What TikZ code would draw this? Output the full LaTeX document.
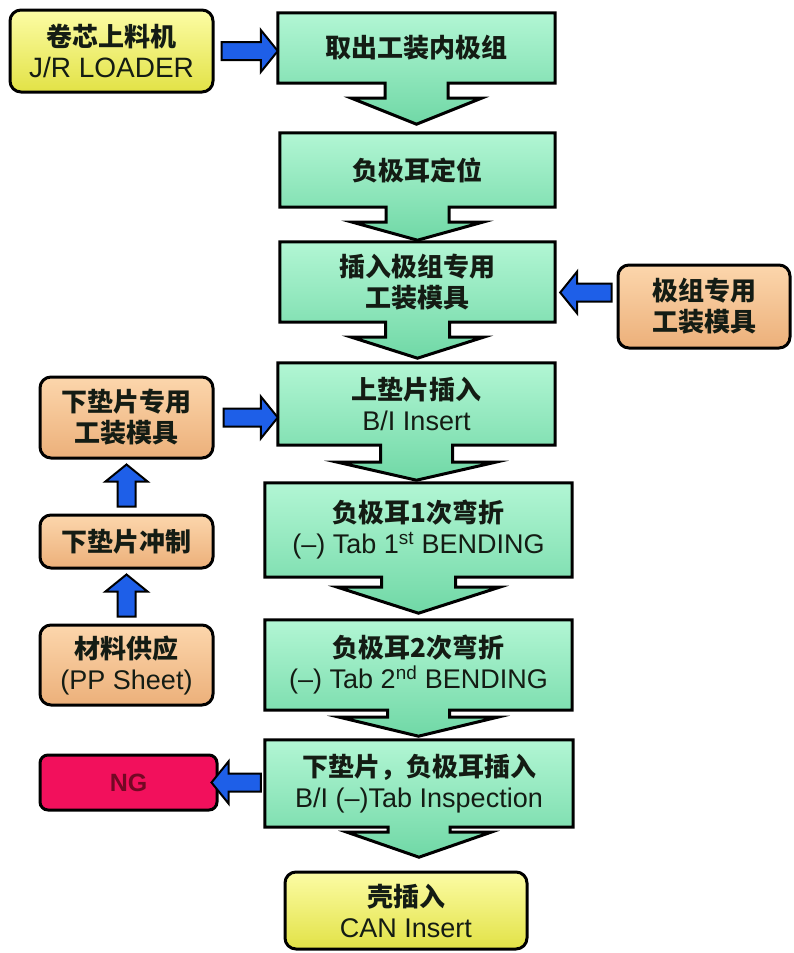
\documentclass[tikz,border=0pt]{standalone}
\usepackage{fontspec}
\setmainfont{Liberation Sans}
\newfontfamily\cjk{Noto Sans CJK SC}
\usetikzlibrary{calc}
\pgfdeclarelayer{bg}
\pgfsetlayers{bg,main}
\definecolor{gtop}{RGB}{178,246,212}
\definecolor{gbot}{RGB}{112,216,166}
\definecolor{ytop}{RGB}{252,252,165}
\definecolor{ybot}{RGB}{226,226,70}
\definecolor{ptop}{RGB}{252,214,172}
\definecolor{pbot}{RGB}{236,176,122}
\definecolor{ngred}{RGB}{242,16,92}
\definecolor{ngtext}{RGB}{115,8,36}
\definecolor{arrblue}{RGB}{30,95,232}
\definecolor{txt}{RGB}{20,28,20}
\tikzset{
  gnode/.style={inner sep=0pt, text=txt, align=center, font=\fontsize{27}{31}\selectfont},
  gshape/.style={draw=black, line width=3pt, line join=miter, top color=gtop, bottom color=gbot},
  rbox/.style={draw=black, line width=3pt, rounded corners=11pt, inner sep=0pt, text=txt, align=center, font=\fontsize{27}{31}\selectfont},
  ybox/.style={rbox, top color=ytop, bottom color=ybot},
  pbox/.style={rbox, top color=ptop, bottom color=pbot},
  ngbox/.style={rbox, rounded corners=8pt, fill=ngred, text=ngtext, font=\fontsize{25}{30}\selectfont\bfseries},
  barrow/.style={draw=black, fill=arrblue, line width=2pt, line join=miter}
}
\newcommand\zh[1]{{\cjk\bfseries\fontsize{26}{31}\selectfont #1}}
% #1 name, #2 shaft half width, #3 shaft length, #4 head half width, #5 head length
\newcommand\arrowbox[5]{%
  \begin{pgfonlayer}{bg}
  \path[gshape] (#1.north west) -- (#1.north east) -- (#1.south east)
    -- ($(#1.south)+(#2,0)$) -- ($(#1.south)+(#2,#3)$) -- ($(#1.south)+(#4,#3)$)
    -- ($(#1.south)+(0,#3+#5)$) -- ($(#1.south)+(-#4,#3)$) -- ($(#1.south)+(-#2,#3)$)
    -- ($(#1.south)+(-#2,0)$) -- (#1.south west) -- cycle;
  \end{pgfonlayer}}
\newcommand\bluearrow[2]{%
  \coordinate (ba1) at (#1);
  \coordinate (ba2) at (#2);
  \coordinate (bah) at ($(ba2)!17pt!(ba1)$);
  \path[barrow] ($(ba1)!9pt!90:(ba2)$) -- ($(bah)!9pt!90:(ba2)$) -- ($(bah)!21pt!90:(ba2)$)
    -- (ba2) -- ($(bah)!21pt!-90:(ba2)$) -- ($(bah)!9pt!-90:(ba2)$) -- ($(ba1)!9pt!-90:(ba2)$) -- cycle;}
\begin{document}
\begin{tikzpicture}[x=1pt,y=-1pt]
\begin{pgfonlayer}{bg}
\fill[white] (0,0) rectangle (793,953);
\end{pgfonlayer}
\useasboundingbox (0,0) rectangle (793,953);

% main column
\node[gnode, minimum width=277pt, minimum height=70pt] (b1) at (416.5,48) {\zh{取出工装内极组}};
\node[gnode, minimum width=275pt, minimum height=74pt] (b2) at (417.5,170) {\zh{负极耳定位}};
\node[gnode, minimum width=275pt, minimum height=80pt] (b3) at (417.5,282) {\zh{插入极组专用}\\\zh{工装模具}};
\node[gnode, minimum width=277pt, minimum height=82pt] (b4) at (416.5,404) {\zh{上垫片插入}\\B/I Insert};
\node[gnode, minimum width=307pt, minimum height=94pt] (b5) at (418.5,530) {\zh{负极耳1次弯折}\\(–) Tab 1\textsuperscript{st} BENDING};
\node[gnode, minimum width=307pt, minimum height=90pt] (b6) at (418.5,665) {\zh{负极耳2次弯折}\\(–) Tab 2\textsuperscript{nd} BENDING};
\node[gnode, minimum width=308pt, minimum height=87pt] (b7) at (419,783.5) {\zh{下垫片，负极耳插入}\\B/I (–)Tab Inspection};
\node[ybox, minimum width=242pt, minimum height=77pt] (can) at (406,910.5) {\zh{壳插入}\\CAN Insert};

\arrowbox{b1}{31.5}{15}{65}{26}
\arrowbox{b2}{31.5}{15}{65}{18}
\arrowbox{b3}{32}{15}{66}{21}
\arrowbox{b4}{36}{17}{79}{18}
\arrowbox{b5}{37}{10}{81}{26}
\arrowbox{b6}{31}{7}{79}{19}
\arrowbox{b7}{31}{5}{72}{25}

% side boxes
\node[ybox, minimum width=203pt, minimum height=82pt] (jr) at (111.5,51) {\zh{卷芯上料机}\\{\fontsize{28}{31}\selectfont J/R LOADER}};
\node[pbox, minimum width=172pt, minimum height=83pt] (rb) at (704,306.5) {\zh{极组专用}\\\zh{工装模具}};
\node[pbox, minimum width=173pt, minimum height=81pt] (pa) at (126.5,417.5) {\zh{下垫片专用}\\\zh{工装模具}};
\node[pbox, minimum width=173pt, minimum height=53pt] (pb) at (126.5,541.5) {\zh{下垫片冲制}};
\node[pbox, minimum width=173pt, minimum height=80pt] (pc) at (126.5,665) {\zh{材料供应}\\(PP Sheet)};
\node[ngbox, minimum width=177pt, minimum height=55pt] (ng) at (128.5,782.5) {NG};

% blue arrows
\bluearrow{$(jr.east)+(7,0)$}{b1.west |- jr.east}
\bluearrow{$(rb.west)+(-5,-14)$}{$(b3.east |- rb.west)+(5,-14)$}
\bluearrow{$(pa.east)+(9,0)$}{b4.west |- pa.east}
\bluearrow{$(pb.north)+(0,-7)$}{$(pa.south)+(0,5)$}
\bluearrow{$(pc.north)+(0,-7)$}{$(pb.south)+(0,5)$}
\bluearrow{$(b7.west |- ng.east)+(-4,0)$}{$(ng.east)+(-7,0)$}
\end{tikzpicture}
\end{document}
